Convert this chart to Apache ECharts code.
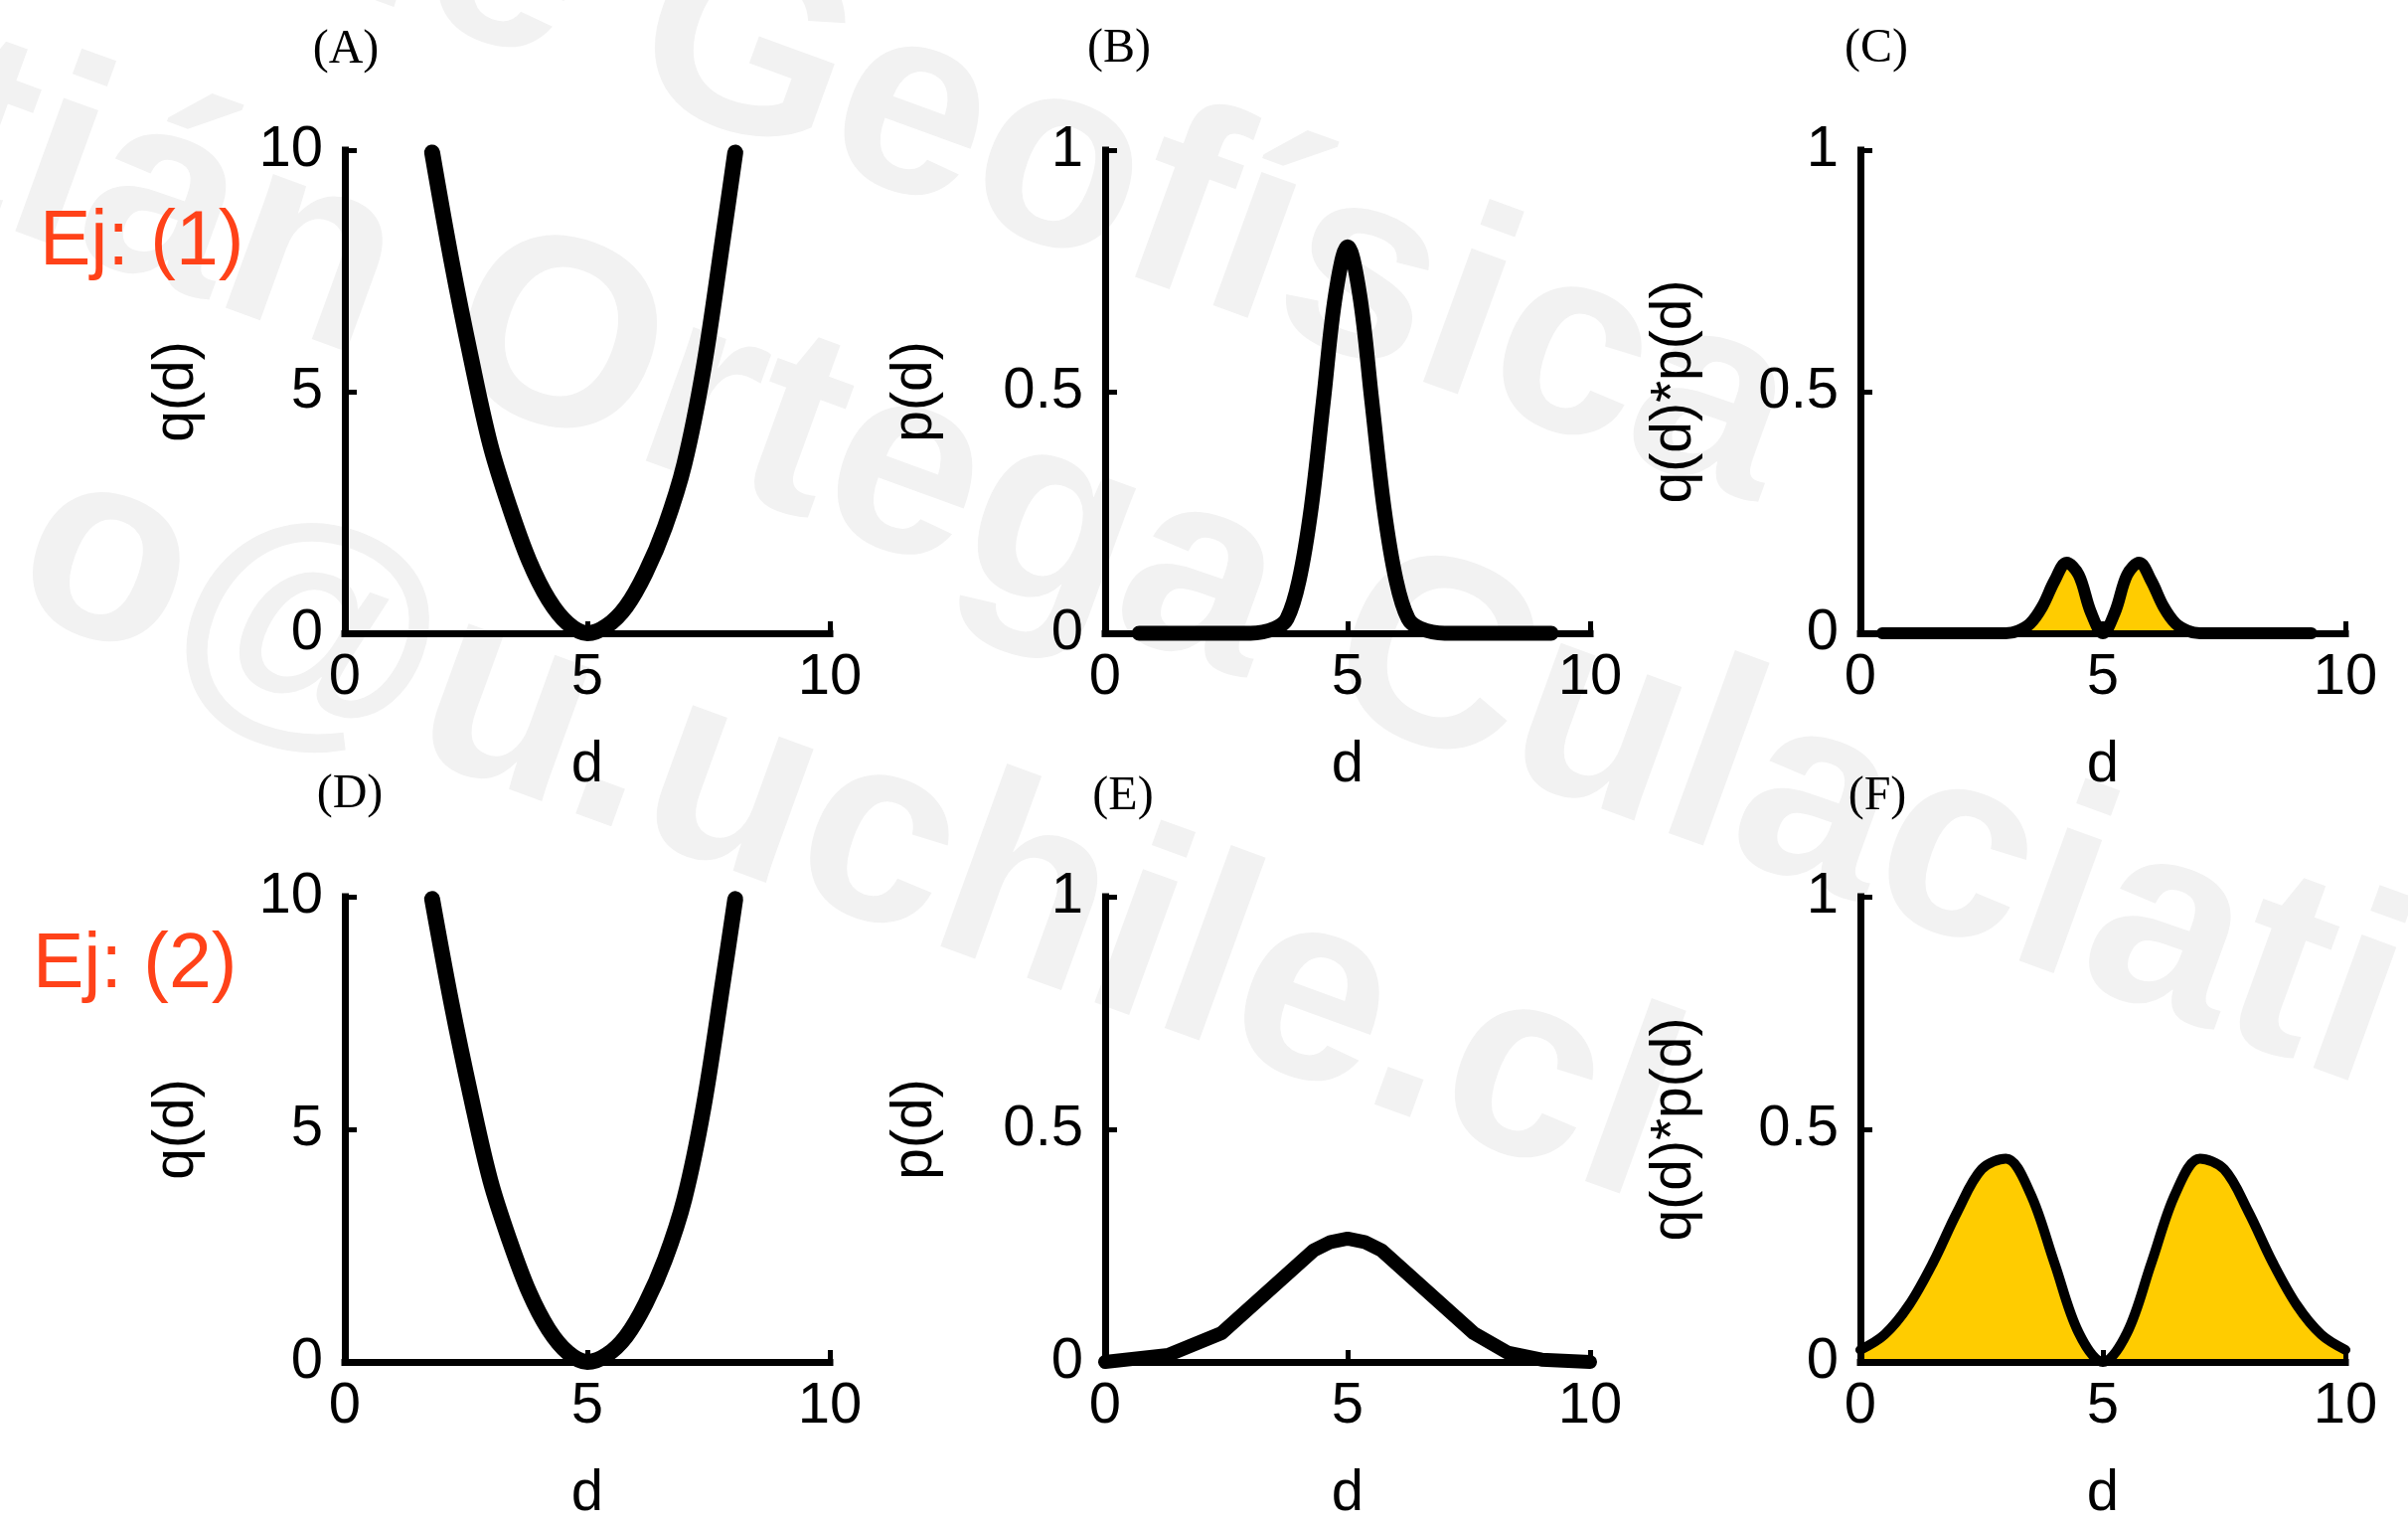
<!DOCTYPE html>
<html>
<head>
<meta charset="utf-8">
<script src="https://cdn.jsdelivr.net/npm/echarts@6/dist/echarts.min.js"></script>
<style>
html,body{margin:0;padding:0;background:#fff;}
#chart{width:2423px;height:1533px;}
</style>
</head>
<body>
<div id="chart"></div>
<script>
// ---------------- data ----------------
const panelTitles = ['(A)', '(B)', '(C)', '(D)', '(E)', '(F)'];
const rowLabels = ['Ej: (1)', 'Ej: (2)'];
const xTicks = [0, 5, 10];
const qTicks = [0, 5, 10];
const pTicks = [0, 0.5, 1];
const xName = 'd';
const yNames = ['q(d)', 'p(d)', 'q(d)*p(d)', 'q(d)', 'p(d)', 'q(d)*p(d)'];

// (A) and (D): q(d)
const dQ    = [1.8, 2.2, 2.6, 3.0, 3.4, 3.8, 4.2, 4.6, 5.0, 5.4, 5.8, 6.2, 6.6, 7.0, 7.4, 7.8, 8.05];
const qVals = [9.95, 7.7, 5.7, 3.9, 2.6, 1.5, 0.7, 0.2, 0.0, 0.15, 0.55, 1.25, 2.2, 3.5, 5.5, 8.2, 9.95];

// (B): p(d), narrow
const dB    = [0.7, 3.0, 3.5, 3.75, 4.0, 4.25, 4.5, 4.75, 5.0, 5.25, 5.5, 5.75, 6.0, 6.25, 6.5, 7.0, 9.2];
const pB    = [0, 0, 0.01, 0.03, 0.11, 0.26, 0.48, 0.70, 0.80, 0.70, 0.48, 0.26, 0.11, 0.03, 0.01, 0, 0];

// (C): q(d)*p(d), narrow
const dC    = [0.45, 3.0, 3.25, 3.5, 3.75, 4.0, 4.25, 4.5, 4.75, 5.0, 5.25, 5.5, 5.75, 6.0, 6.25, 6.5, 6.75, 7.0, 9.3];
const cVals = [0, 0, 0.005, 0.02, 0.055, 0.108, 0.146, 0.121, 0.044, 0, 0.044, 0.121, 0.146, 0.108, 0.055, 0.02, 0.005, 0, 0];

// (E): p(d), wide
const dE    = [0, 1.3, 2.4, 4.3, 4.65, 5.0, 5.35, 5.7, 7.6, 8.3, 9.0, 10];
const pE    = [0, 0.015, 0.062, 0.24, 0.258, 0.265, 0.258, 0.24, 0.062, 0.02, 0.005, 0];

// (F): q(d)*p(d), wide
const dF    = [0, 0.5, 1.0, 1.5, 2.0, 2.5, 3.0, 3.5, 4.0, 4.5, 5.0, 5.5, 6.0, 6.5, 7.0, 7.5, 8.0, 8.5, 9.0, 9.5, 10];
const fVals = [0.026, 0.059, 0.122, 0.214, 0.323, 0.414, 0.437, 0.363, 0.213, 0.063, 0, 0.063, 0.213, 0.363, 0.437, 0.414, 0.323, 0.214, 0.122, 0.059, 0.026];

const watermark = ['Departamento de ', 'Geofísica', 'Cristián ', 'Ortega Culaciati', 'o@u.uchile.cl'];

// ---------------- layout ----------------
const colLeft = [347, 1112, 1872];
const rowTop = [151, 902];
const gW = 488, gH = 486;
const SANS = '"Liberation Sans", Arial, Helvetica, sans-serif';
const SERIF = '"Liberation Serif", "Times New Roman", serif';

function zip(xs, ys) { return xs.map((x, i) => [x, ys[i]]); }

const grids = [], xAxes = [], yAxes = [], series = [];
const panels = [
  {d: dQ, v: qVals, max: 10, ticks: qTicks, lw: 16, fill: false, smooth: 0.35, gap: 140},
  {d: dB, v: pB, max: 1, ticks: pTicks, lw: 15, fill: false, smooth: 0.35, gap: 162},
  {d: dC, v: cVals, max: 1, ticks: pTicks, lw: 12, fill: true, smooth: 0.35, gap: 158},
  {d: dQ, v: qVals, max: 10, ticks: qTicks, lw: 16, fill: false, smooth: 0.35, gap: 140},
  {d: dE, v: pE, max: 1, ticks: pTicks, lw: 14, fill: false, smooth: false, gap: 162},
  {d: dF, v: fVals, max: 1, ticks: pTicks, lw: 10, fill: true, smooth: 0.35, gap: 158}
];

panels.forEach((p, i) => {
  const r = Math.floor(i / 3), c = i % 3;
  grids.push({left: colLeft[c], top: rowTop[r], width: gW, height: gH, containLabel: false});
  xAxes.push({
    type: 'value', gridIndex: i, min: xTicks[0], max: xTicks[xTicks.length - 1],
    interval: xTicks[1] - xTicks[0], z: 3,
    axisLine: {show: true, onZero: false, lineStyle: {color: '#000', width: 7, cap: 'square'}},
    axisTick: {show: true, inside: true, length: 12, lineStyle: {color: '#000', width: 5}},
    splitLine: {show: false},
    axisLabel: {color: '#000', fontFamily: SANS, fontSize: 58, margin: 16},
    name: xName, nameLocation: 'middle', nameGap: 104,
    nameTextStyle: {color: '#000', fontFamily: SANS, fontSize: 58}
  });
  yAxes.push({
    type: 'value', gridIndex: i, min: 0, max: p.max,
    interval: p.ticks[1] - p.ticks[0], z: 3,
    axisLine: {show: true, onZero: false, lineStyle: {color: '#000', width: 7, cap: 'square'}},
    axisTick: {show: true, inside: true, length: 12, lineStyle: {color: '#000', width: 5}},
    splitLine: {show: false},
    axisLabel: {color: '#000', fontFamily: SANS, fontSize: 58, margin: 22, padding: [0, 0, 16, 0]},
    name: yNames[i], nameLocation: 'middle', nameGap: p.gap,
    nameTextStyle: {color: '#000', fontFamily: SANS, fontSize: 57}
  });
  series.push({
    type: 'line', xAxisIndex: i, yAxisIndex: i,
    data: zip(p.d, p.v), showSymbol: false, symbol: 'none',
    smooth: p.smooth, clip: false, z: 2,
    lineStyle: {color: '#000', width: p.lw, cap: 'round', join: 'round'},
    areaStyle: p.fill ? {color: '#FFCC00', opacity: 1} : null,
    silent: true
  });
});

const titlePos = [[348, 50], [1126, 49], [1888, 49], [352, 799], [1130, 801], [1889, 801]];
const graphics = [];

// watermark
const ang = -20 * Math.PI / 180;
const wmStyle = {font: 'bold 270px ' + SANS, fill: '#F2F2F2'};
const wmPlace = [[604, 147, 'right'], [604, 147, 'left'], [414, 442, 'right'], [414, 442, 'left'], [-16, 666, 'left']];
watermark.forEach((t, i) => {
  graphics.push({type: 'text', x: wmPlace[i][0], y: wmPlace[i][1], rotation: ang, z: -10, silent: true,
    style: Object.assign({text: t, textAlign: wmPlace[i][2], textVerticalAlign: 'bottom'}, wmStyle)});
});

panelTitles.forEach((t, i) => {
  graphics.push({type: 'text', x: titlePos[i][0], y: titlePos[i][1], z: 10,
    style: {text: t, font: '48px ' + SERIF, fill: '#000', textAlign: 'center', textVerticalAlign: 'middle'}});
});
const rowLabelPos = [[40, 245], [33, 972]];
rowLabels.forEach((t, i) => {
  graphics.push({type: 'text', x: rowLabelPos[i][0], y: rowLabelPos[i][1], z: 10,
    style: {text: t, font: '77px ' + SANS, fill: '#FF4219', textAlign: 'left', textVerticalAlign: 'middle'}});
});

const chart = echarts.init(document.getElementById('chart'), null, {renderer: 'canvas'});
chart.setOption({
  animation: false,
  backgroundColor: '#ffffff',
  grid: grids, xAxis: xAxes, yAxis: yAxes, series: series,
  graphic: {elements: graphics}
});
</script>
</body>
</html>
